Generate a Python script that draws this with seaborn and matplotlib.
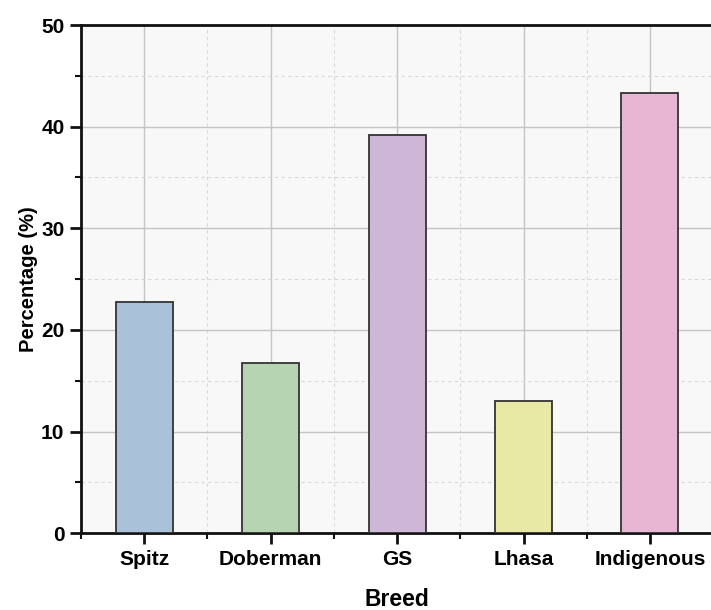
import matplotlib
matplotlib.use("Agg")
import matplotlib.pyplot as plt
import seaborn as sns
import pandas as pd
from matplotlib.ticker import MultipleLocator

# --- data ---
breeds = ["Spitz", "Doberman", "GS", "Lhasa", "Indigenous"]
percentages = [22.7, 16.7, 39.2, 13.0, 43.3]
bar_colors = ["#aac1da", "#b6d4b1", "#cdb6d6", "#e9e9a6", "#e7b6d3"]

df = pd.DataFrame({"Breed": breeds, "Percentage": percentages})

sns.set_style("white")
plt.rcParams["font.family"] = ["Liberation Sans", "DejaVu Sans"]
plt.rcParams["font.weight"] = "bold"
plt.rcParams["text.color"] = "black"
plt.rcParams["axes.labelcolor"] = "black"
plt.rcParams["xtick.color"] = "black"
plt.rcParams["ytick.color"] = "black"

fig = plt.figure(figsize=(7.11, 6.10), dpi=100)
ax = fig.add_axes([0.114, 0.126, 0.889, 0.833])
ax.set_facecolor("#f8f8f8")

sns.barplot(data=df, x="Breed", y="Percentage", hue="Breed", palette=bar_colors,
            saturation=1, width=0.45, edgecolor="#333333", linewidth=1.3,
            legend=False, ax=ax, zorder=3)

ax.set_xlim(-0.5, 4.5)
ax.set_ylim(0, 50)
ax.yaxis.set_major_locator(MultipleLocator(10))
ax.yaxis.set_minor_locator(MultipleLocator(5))
ax.xaxis.set_minor_locator(MultipleLocator(0.5))

# grid: solid major, dashed minor
ax.grid(which="major", color="#c4c4c4", linewidth=1.0, linestyle="-", zorder=0)
ax.grid(which="minor", color="#d8d8d8", linewidth=0.8, linestyle=(0, (3, 3)), zorder=0)
ax.set_axisbelow(True)

for side in ["left", "bottom", "top"]:
    ax.spines[side].set_visible(True)
    ax.spines[side].set_linewidth(2)
    ax.spines[side].set_color("#111111")
ax.spines["right"].set_visible(False)

ax.tick_params(axis="both", which="major", direction="out", length=8, width=2,
               labelsize=15, color="#111111", bottom=True, left=True,
               top=False, right=False, pad=4)
ax.tick_params(axis="both", which="minor", direction="out", length=4, width=1.5,
               color="#111111", bottom=True, left=True, top=False, right=False)
for lab in ax.get_xticklabels() + ax.get_yticklabels():
    lab.set_fontweight("bold")
    lab.set_color("black")

ax.set_xlabel("Breed", fontsize=16.5, fontweight="bold", labelpad=14)
ax.set_ylabel("Percentage (%)", fontsize=14.5, fontweight="bold", labelpad=2)

fig.savefig("out.png", dpi=100)
